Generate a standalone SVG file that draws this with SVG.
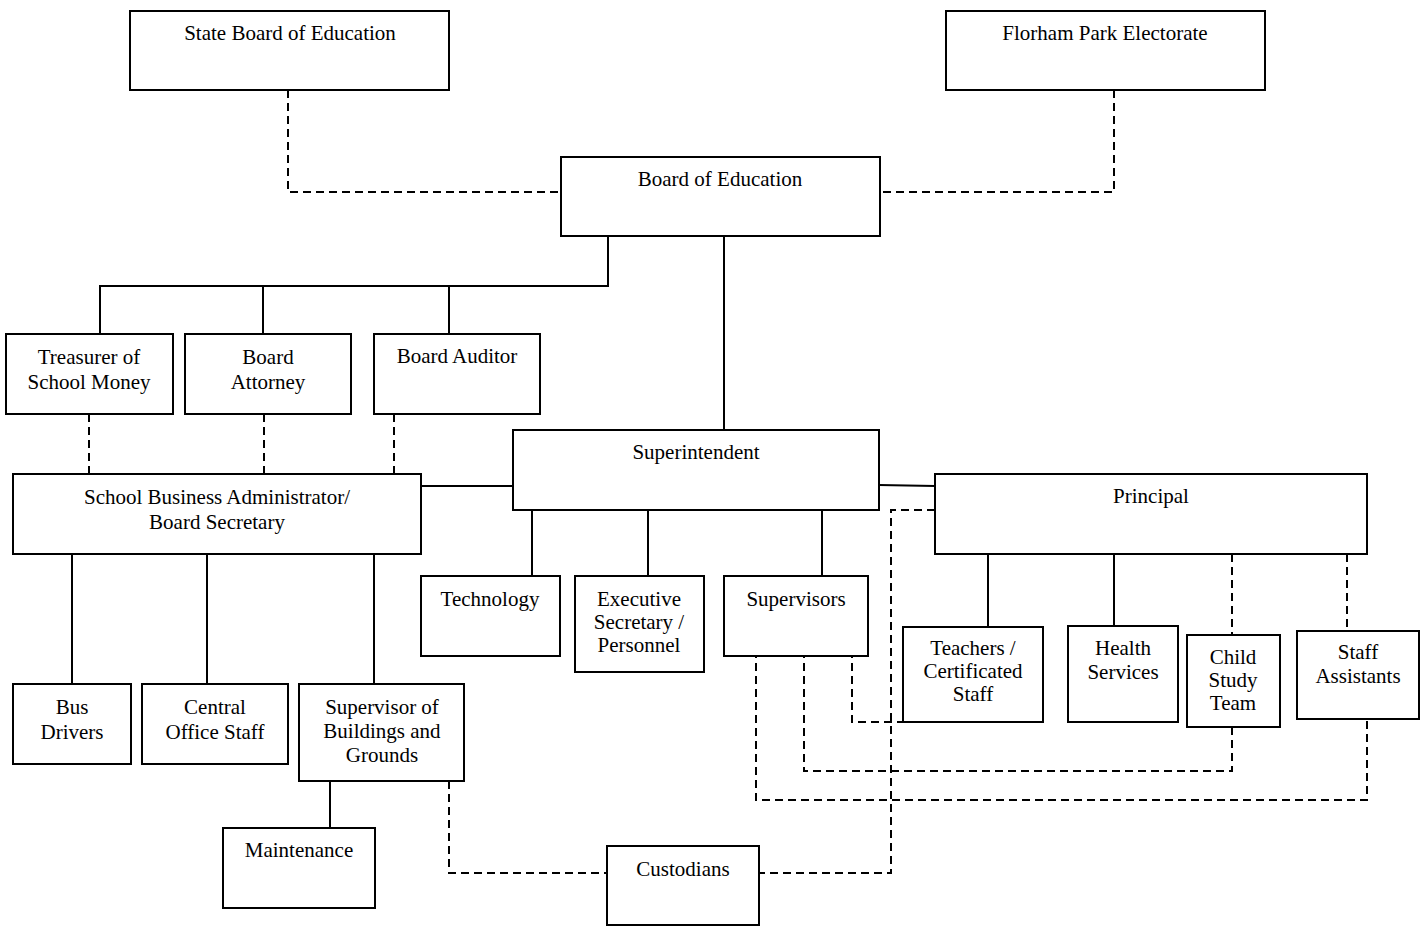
<svg xmlns="http://www.w3.org/2000/svg" width="1424" height="926" viewBox="0 0 1424 926">
<style>
rect{fill:#fff;stroke:#000;stroke-width:2}
text{font-family:"Liberation Serif","Times New Roman",serif;font-size:21px;fill:#000;text-anchor:middle}
.s{fill:none;stroke:#000;stroke-width:2}
.d{fill:none;stroke:#000;stroke-width:2;stroke-dasharray:8 5}
</style>
<rect width="1424" height="926" style="fill:#fff;stroke:none"/>
<g id="connectors">
<path class="d" d="M288 90V192H561"/>
<path class="d" d="M1114 90V192H880"/>
<path class="s" d="M608 236V286H100V334M263 286V334M449 286V334"/>
<path class="s" d="M724 236V430"/>
<path class="d" d="M89 414V474M264 414V474M394 414V474"/>
<path class="s" d="M421 486H513"/>
<path class="s" d="M72 554V684M207 554V684M374 554V684"/>
<path class="s" d="M330 781V828"/>
<path class="s" d="M532 510V576M648 510V576M822 510V576"/>
<path class="s" d="M879 485L935 486"/>
<path class="d" d="M935 510H891V873H759"/>
<path class="d" d="M449 781V873H607"/>
<path class="s" d="M988 554V627M1114 554V626"/>
<path class="d" d="M1232 554V635M1347 554V631"/>
<path class="d" d="M852 650V722H920"/>
<path class="d" d="M804 650V771H1232V727"/>
<path class="d" d="M756 650V800H1367V719"/>
</g>
<g id="state-board"><rect x="130" y="11" width="319" height="79"/><text x="290" y="40">State Board of Education</text></g>
<g id="florham"><rect x="946" y="11" width="319" height="79"/><text x="1105" y="40">Florham Park Electorate</text></g>
<g id="board-ed"><rect x="561" y="157" width="319" height="79"/><text x="720" y="186">Board of Education</text></g>
<g id="treasurer"><rect x="6" y="334" width="167" height="80"/><text x="89" y="364">Treasurer of</text><text x="89" y="389">School Money</text></g>
<g id="attorney"><rect x="185" y="334" width="166" height="80"/><text x="268" y="364">Board</text><text x="268" y="389">Attorney</text></g>
<g id="auditor"><rect x="374" y="334" width="166" height="80"/><text x="457" y="363">Board Auditor</text></g>
<g id="sba"><rect x="13" y="474" width="408" height="80"/><text x="217" y="504">School Business Administrator/</text><text x="217" y="529">Board Secretary</text></g>
<g id="superintendent"><rect x="513" y="430" width="366" height="80"/><text x="696" y="459">Superintendent</text></g>
<g id="principal"><rect x="935" y="474" width="432" height="80"/><text x="1151" y="503">Principal</text></g>
<g id="technology"><rect x="421" y="576" width="139" height="80"/><text x="490" y="606">Technology</text></g>
<g id="exec-sec"><rect x="575" y="576" width="129" height="96"/><text x="639" y="606">Executive</text><text x="639" y="629">Secretary /</text><text x="639" y="652">Personnel</text></g>
<g id="supervisors"><rect x="724" y="576" width="144" height="80"/><text x="796" y="606">Supervisors</text></g>
<g id="teachers"><rect x="903" y="627" width="140" height="95"/><text x="973" y="655">Teachers /</text><text x="973" y="678">Certificated</text><text x="973" y="701">Staff</text></g>
<g id="health"><rect x="1068" y="626" width="110" height="96"/><text x="1123" y="655">Health</text><text x="1123" y="679">Services</text></g>
<g id="child-study"><rect x="1187" y="635" width="93" height="92"/><text x="1233" y="664">Child</text><text x="1233" y="687">Study</text><text x="1233" y="710">Team</text></g>
<g id="staff-assistants"><rect x="1297" y="631" width="122" height="88"/><text x="1358" y="659">Staff</text><text x="1358" y="683">Assistants</text></g>
<g id="bus"><rect x="13" y="684" width="118" height="80"/><text x="72" y="714">Bus</text><text x="72" y="739">Drivers</text></g>
<g id="central"><rect x="142" y="684" width="146" height="80"/><text x="215" y="714">Central</text><text x="215" y="739">Office Staff</text></g>
<g id="sob"><rect x="299" y="684" width="165" height="97"/><text x="382" y="714">Supervisor of</text><text x="382" y="738">Buildings and</text><text x="382" y="762">Grounds</text></g>
<g id="maintenance"><rect x="223" y="828" width="152" height="80"/><text x="299" y="857">Maintenance</text></g>
<g id="custodians"><rect x="607" y="846" width="152" height="79"/><text x="683" y="876">Custodians</text></g>
</svg>
